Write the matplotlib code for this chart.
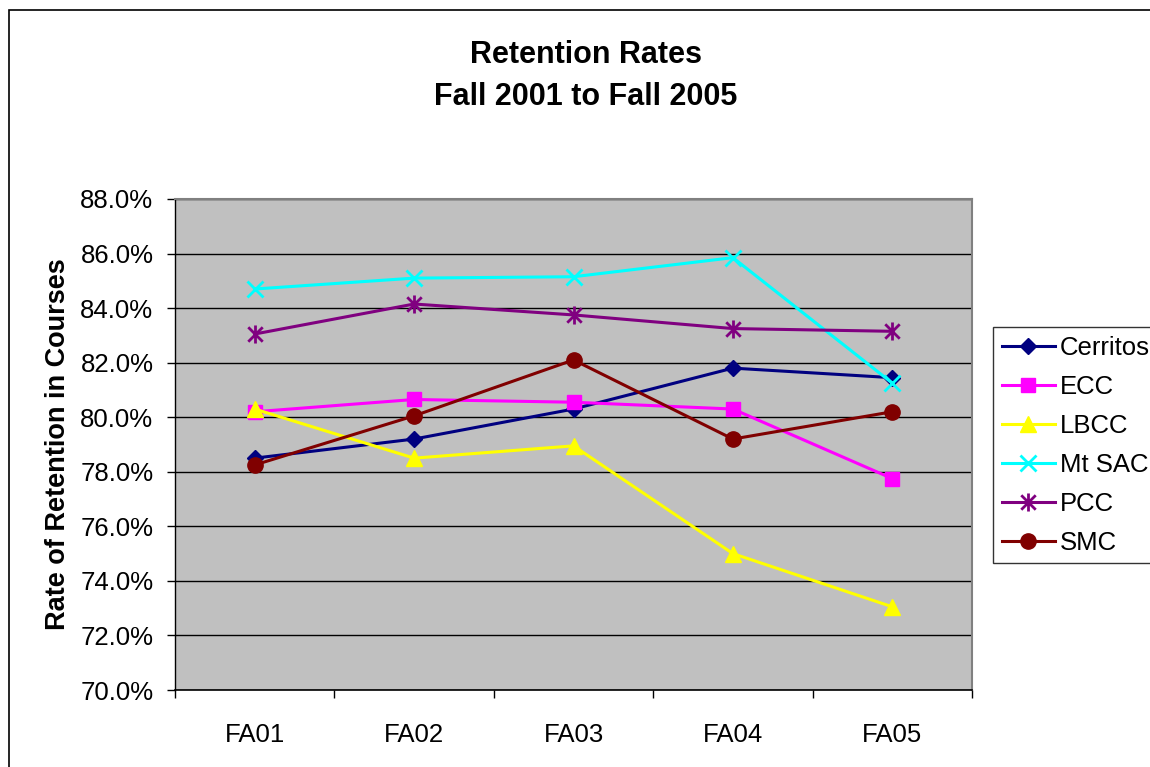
import matplotlib
matplotlib.use("Agg")
import matplotlib.pyplot as plt
from matplotlib.path import Path
from matplotlib.patches import Rectangle
import matplotlib.ticker as mticker

plt.rcParams['font.family'] = ['Liberation Sans', 'DejaVu Sans']

categories = ["FA01", "FA02", "FA03", "FA04", "FA05"]
cerritos = [78.5, 79.2, 80.3, 81.8, 81.45]
ecc = [80.2, 80.65, 80.55, 80.3, 77.75]
lbcc = [80.3, 78.5, 78.95, 75.0, 73.05]
mtsac = [84.7, 85.1, 85.15, 85.85, 81.25]
pcc = [83.05, 84.15, 83.75, 83.25, 83.15]
smc = [78.25, 80.05, 82.1, 79.2, 80.2]
series_names = ["Cerritos", "ECC", "LBCC", "Mt SAC", "PCC", "SMC"]
series_values = [cerritos, ecc, lbcc, mtsac, pcc, smc]
y_ticks = [70, 72, 74, 76, 78, 80, 82, 84, 86, 88]

# Excel-style asterisk: x plus vertical line
ast = Path([(-1, -1), (1, 1), (-1, 1), (1, -1), (0, -1.25), (0, 1.25)],
           [Path.MOVETO, Path.LINETO, Path.MOVETO, Path.LINETO, Path.MOVETO, Path.LINETO])

styles = [
    dict(color="#000080", marker="D", ms=8.5, mfc="#000080", mec="#000080"),
    dict(color="#FF00FF", marker="s", ms=10, mfc="#FF00FF", mec="#FF00FF"),
    dict(color="#FFFF00", marker="^", ms=11, mfc="#FFFF00", mec="#FFFF00"),
    dict(color="#00FFFF", marker="x", ms=11, mfc="none", mec="#00FFFF", mew=2),
    dict(color="#800080", marker=ast, ms=13, mfc="none", mec="#800080", mew=2),
    dict(color="#800000", marker="o", ms=11, mfc="#800000", mec="#800000"),
]

W, H = 1150, 767
fig = plt.figure(figsize=(W / 100, H / 100), dpi=100)
fig.patches.append(Rectangle((9 / W, -0.02), 1.05, 1 - 10 / H + 0.02, transform=fig.transFigure,
                             fill=False, edgecolor="black", linewidth=1.2))

ax = fig.add_axes([175 / W, 1 - 690 / H, (972 - 175) / W, (690 - 199) / H])
ax.set_facecolor("#C0C0C0")

x = list(range(len(categories)))
for name, vals, st in zip(series_names, series_values, styles):
    ax.plot(x, vals, label=name, linewidth=2.2, color=st["color"], marker=st["marker"],
            markersize=st["ms"], markerfacecolor=st["mfc"], markeredgecolor=st["mec"],
            markeredgewidth=st.get("mew", 1), clip_on=False, zorder=3)

ax.set_xlim(-0.5, len(categories) - 0.5)
ax.set_ylim(70, 88)
ax.set_yticks(y_ticks)
ax.yaxis.set_major_formatter(mticker.FuncFormatter(lambda v, p: f"{v:.1f}%"))
ax.yaxis.grid(True, color="black", linewidth=1)
ax.set_axisbelow(True)

ax.set_xticks(x)
ax.set_xticklabels(categories)
ax.set_xticks([i - 0.5 for i in range(len(categories) + 1)], minor=True)
ax.tick_params(axis="x", which="major", length=0, pad=24, labelsize=18.5)
ax.tick_params(axis="x", which="minor", length=6, width=1, direction="out")
ax.tick_params(axis="y", length=6, width=1, direction="out", pad=9.5, labelsize=18.5)

for s in ["top", "right"]:
    ax.spines[s].set_color("#808080")
    ax.spines[s].set_linewidth(1.5)
ax.spines["left"].set_color("black")
ax.spines["bottom"].set_color("black")
ax.spines["left"].set_linewidth(1)
ax.spines["bottom"].set_linewidth(1.2)

ax.set_ylabel("Rate of Retention in Courses", fontsize=19.5, fontweight="bold", labelpad=7)

fig.text(586 / W, 1 - 76 / H, "Retention Rates\nFall 2001 to Fall 2005", ha="center", va="center",
         fontsize=22, fontweight="bold", linespacing=1.55)

leg = fig.legend(loc="upper left", bbox_to_anchor=(993 / W, 1 - 327 / H), fontsize=18.5,
                 frameon=True, fancybox=False, handlelength=2.06, handletextpad=0.2,
                 labelspacing=0.58, borderpad=0.35, borderaxespad=0)
leg.get_frame().set_edgecolor("black")
leg.get_frame().set_linewidth(1)

fig.savefig("out.png", dpi=100)
